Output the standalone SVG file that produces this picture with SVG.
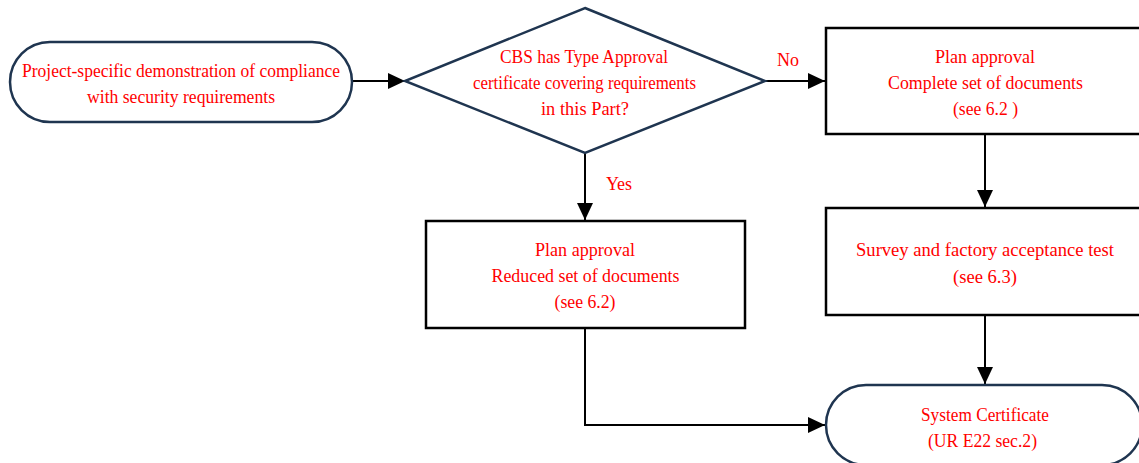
<svg xmlns="http://www.w3.org/2000/svg" width="1139" height="463" viewBox="0 0 1139 463">
<style>
.t{font-family:"Liberation Serif","Times New Roman",serif;font-size:18px;fill:#ff0000;text-anchor:middle}
.term{fill:#ffffff;stroke:#1f3550;stroke-width:2.5}
.box{fill:#ffffff;stroke:#000000;stroke-width:2.5}
.conn{fill:none;stroke:#000000;stroke-width:2}
</style>
<defs>
<marker id="arrB" viewBox="0 0 17 16" refX="17" refY="8" markerWidth="17" markerHeight="16" markerUnits="userSpaceOnUse" orient="auto">
<path d="M0,0 L17,8 L0,16 Z" fill="#000000"/>
</marker>
</defs>
<rect width="1139" height="463" fill="#ffffff"/>
<g id="connectors">
<line class="conn" x1="352" y1="81" x2="405" y2="81" marker-end="url(#arrB)"/>
<line class="conn" x1="765" y1="81" x2="825" y2="81" marker-end="url(#arrB)"/>
<line class="conn" x1="585" y1="153" x2="585" y2="220" marker-end="url(#arrB)"/>
<line class="conn" x1="985" y1="134" x2="985" y2="207" marker-end="url(#arrB)"/>
<line class="conn" x1="985" y1="315" x2="985" y2="384" marker-end="url(#arrB)"/>
<polyline class="conn" points="585,328 585,425 825,425" marker-end="url(#arrB)"/>
<text class="t" x="788" y="66" textLength="22">No</text>
<text class="t" x="619" y="190" textLength="26">Yes</text>
</g>
<g id="start">
<rect class="term" x="10" y="42" width="342" height="80" rx="40" ry="40"/>
<text class="t" x="181" y="77" textLength="318" lengthAdjust="spacingAndGlyphs">Project-specific demonstration of compliance</text>
<text class="t" x="181" y="103" textLength="188" lengthAdjust="spacingAndGlyphs">with security requirements</text>
</g>
<g id="decision">
<polygon class="term" points="585,8 765,81 585,153 405,81"/>
<text class="t" x="584" y="63" textLength="168" lengthAdjust="spacingAndGlyphs">CBS has Type Approval</text>
<text class="t" x="584.5" y="89" textLength="223" lengthAdjust="spacingAndGlyphs">certificate covering requirements</text>
<text class="t" x="585" y="115" textLength="88" lengthAdjust="spacingAndGlyphs">in this Part?</text>
</g>
<g id="plan-complete">
<rect class="box" x="826" y="28" width="320" height="106"/>
<text class="t" x="985" y="63" textLength="100" lengthAdjust="spacingAndGlyphs">Plan approval</text>
<text class="t" x="985.5" y="89" textLength="195" lengthAdjust="spacingAndGlyphs">Complete set of documents</text>
<text class="t" x="985.5" y="115" textLength="65" lengthAdjust="spacingAndGlyphs">(see 6.2 )</text>
</g>
<g id="plan-reduced">
<rect class="box" x="426" y="221" width="319" height="107"/>
<text class="t" x="585" y="256" textLength="100" lengthAdjust="spacingAndGlyphs">Plan approval</text>
<text class="t" x="585.5" y="282" textLength="188" lengthAdjust="spacingAndGlyphs">Reduced set of documents</text>
<text class="t" x="585" y="308" textLength="61" lengthAdjust="spacingAndGlyphs">(see 6.2)</text>
</g>
<g id="survey">
<rect class="box" x="826" y="208" width="320" height="107"/>
<text class="t" x="985" y="256" textLength="258" lengthAdjust="spacingAndGlyphs">Survey and factory acceptance test</text>
<text class="t" x="985" y="283" textLength="64" lengthAdjust="spacingAndGlyphs">(see 6.3)</text>
</g>
<g id="certificate">
<rect class="term" x="826" y="385" width="316" height="80" rx="40" ry="40"/>
<text class="t" x="985" y="421" textLength="128" lengthAdjust="spacingAndGlyphs">System Certificate</text>
<text class="t" x="982.5" y="447" textLength="109" lengthAdjust="spacingAndGlyphs">(UR E22 sec.2)</text>
</g>
</svg>
